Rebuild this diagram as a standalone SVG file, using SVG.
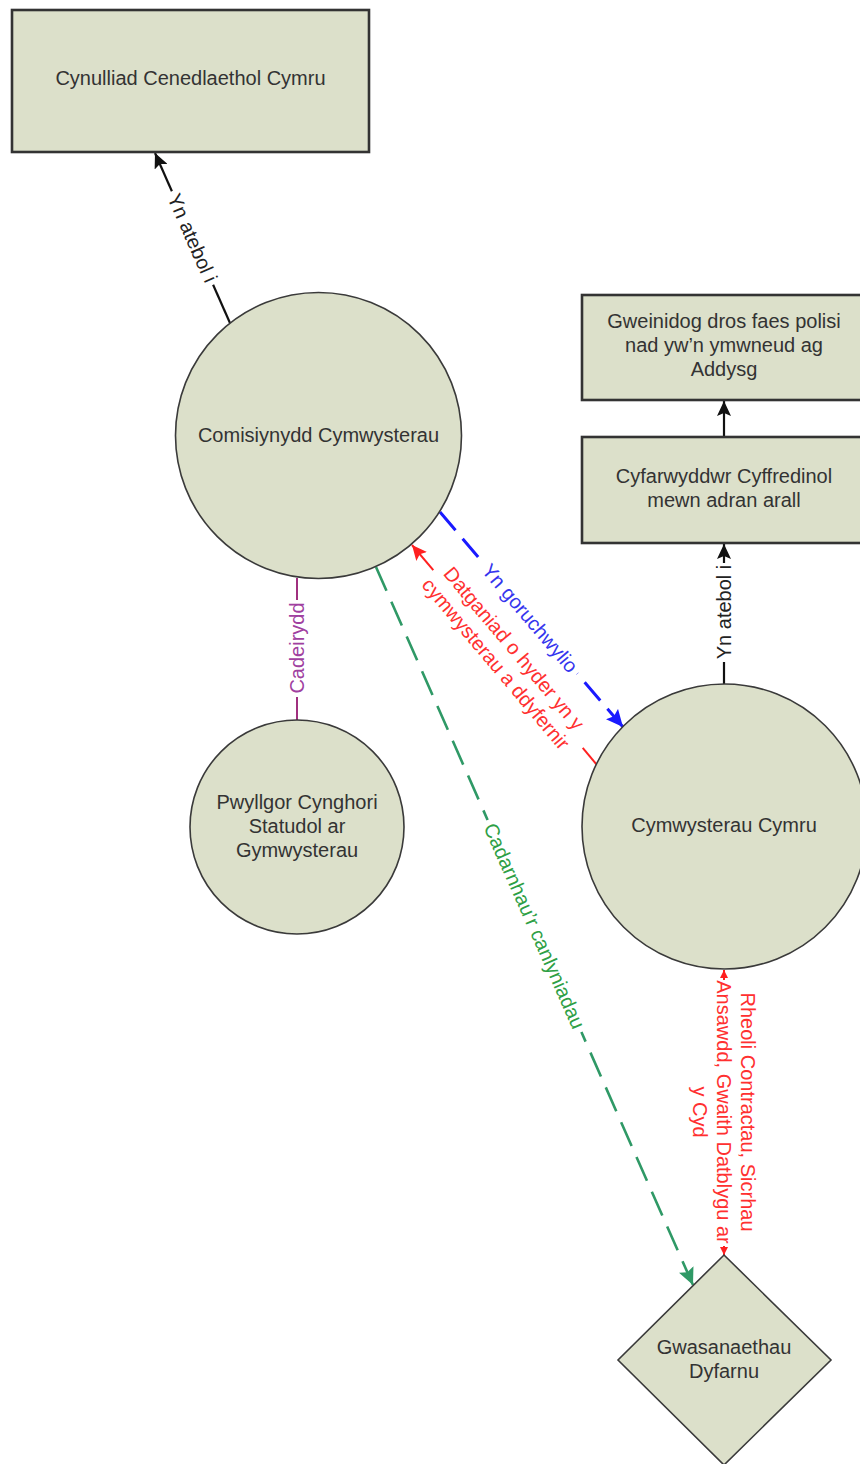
<svg xmlns="http://www.w3.org/2000/svg" width="860" height="1464" viewBox="0 0 860 1464">
<style>
  text { font-family: "Liberation Sans", Arial, sans-serif; font-size: 20px; }
  .node { fill: #dce0ca; stroke: #3a3a3a; stroke-width: 1.6; }
  .box { fill: #dce0ca; stroke: #333333; stroke-width: 2.6; }
  .lbl { fill: #333333; text-anchor: middle; }
  .k { stroke: #111111; stroke-width: 2.2; fill: none; }
  .blue { stroke: #1a1aff; stroke-width: 3; fill: none; stroke-dasharray: 24 11; }
  .green { stroke: #2f9966; stroke-width: 2.6; fill: none; stroke-dasharray: 26 12; }
  .red { stroke: #ff2020; stroke-width: 2; fill: none; }
  .purple { stroke: #a0307f; stroke-width: 2; fill: none; }
  .tk { fill: #222222; text-anchor: middle; }
  .tb { fill: #3535ee; text-anchor: middle; }
  .tr { fill: #ff3030; text-anchor: middle; }
  .tg { fill: #2e9f45; text-anchor: middle; }
  .tp { fill: #a040a0; text-anchor: middle; }
</style>
<defs>
  <marker id="ak" markerUnits="userSpaceOnUse" markerWidth="16" markerHeight="14" refX="15" refY="7" orient="auto">
    <path d="M0,0 L15,7 L0,14 L3,7 Z" fill="#111111"/>
  </marker>
  <marker id="ab" markerUnits="userSpaceOnUse" markerWidth="18" markerHeight="16" refX="17" refY="8" orient="auto-start-reverse">
    <path d="M0,0 L17,8 L0,16 L3,8 Z" fill="#1a1aff"/>
  </marker>
  <marker id="ag" markerUnits="userSpaceOnUse" markerWidth="18" markerHeight="16" refX="17" refY="8" orient="auto-start-reverse">
    <path d="M0,0 L17,8 L0,16 L3,8 Z" fill="#2f9966"/>
  </marker>
  <marker id="ar" markerUnits="userSpaceOnUse" markerWidth="16" markerHeight="14" refX="15" refY="7" orient="auto">
    <path d="M0,0 L15,7 L0,14 L3,7 Z" fill="#ff2020"/>
  </marker>
  <marker id="ars" markerUnits="userSpaceOnUse" markerWidth="9" markerHeight="9" refX="8" refY="4" orient="auto">
    <path d="M0,0 L8,4 L0,8 Z" fill="#ff2020"/>
  </marker>
</defs>

<g id="connectors">
  <!-- Comisiynydd -> Cynulliad -->
  <path class="k" d="M230,323 L213.1,284.7"/>
  <path class="k" d="M171.9,191.3 L155,153" marker-end="url(#ak)"/>
  <text class="tk" x="192.5" y="238" dy="0.35em" transform="rotate(66.19 192.5 238)">Yn atebol i</text>

  <!-- Cymwysterau Cymru -> Cyfarwyddwr -->
  <path class="k" d="M724,684 L724,662"/>
  <path class="k" d="M724,563 L724,544" marker-end="url(#ak)"/>
  <text class="tk" x="724" y="612" dy="0.35em" transform="rotate(-90 724 612)">Yn atebol i</text>

  <!-- Cyfarwyddwr -> Gweinidog -->
  <path class="k" d="M724,437 L724,401" marker-end="url(#ak)"/>

  <!-- Cadeirydd -->
  <path class="purple" d="M297,578 L297,600"/>
  <path class="purple" d="M297,697 L297,720"/>
  <text class="tp" x="297" y="648" dy="0.35em" transform="rotate(-90 297 648)">Cadeirydd</text>

  <!-- Yn goruchwylio -->
  <path class="blue" d="M440,512 L482.7,562.4"/>
  <path class="blue" d="M623,727 L577.3,673.6" marker-start="url(#ab)"/>
  <text class="tb" x="530" y="618" dy="0.35em" transform="rotate(49.6 530 618)">Yn goruchwylio</text>

  <!-- Datganiad -->
  <path class="red" d="M433.3,570.2 L412,545" marker-end="url(#ar)"/>
  <path class="red" d="M582.7,747.8 L597,765"/>
  <text class="tr" transform="rotate(49.93 505 656)"><tspan x="505" y="651">Datganiad o hyder yn y</tspan><tspan x="505" y="675">cymwysterau a ddyfernir</tspan></text>

  <!-- Cadarnhau'r canlyniadau -->
  <path class="green" d="M376,567 L487.6,819.9"/>
  <path class="green" d="M693,1285 L581.4,1032.1" marker-start="url(#ag)"/>
  <text class="tg" x="534.5" y="926" dy="0.35em" transform="rotate(66.18 534.5 926)">Cadarnhau’r canlyniadau</text>

  <!-- Rheoli Contractau -->
  <path class="red" d="M724,980 L724,970" marker-end="url(#ars)"/>
  <path class="red" d="M724,1246 L724,1255" marker-end="url(#ars)"/>
  <text class="tr" transform="rotate(90 723.5 1112)"><tspan x="723.5" y="1095">Rheoli Contractau, Sicrhau</tspan><tspan x="723.5" y="1119">Ansawdd, Gwaith Datblygu ar</tspan><tspan x="723.5" y="1143">y Cyd</tspan></text>
</g>

<g id="cynulliad">
  <rect class="box" x="12" y="10" width="357" height="142" stroke-width="3"/>
  <text class="lbl" x="190.5" y="85">Cynulliad Cenedlaethol Cymru</text>
</g>

<g id="gweinidog">
  <rect class="box" x="582" y="295" width="292" height="105"/>
  <text class="lbl"><tspan x="724" y="328">Gweinidog dros faes polisi</tspan><tspan x="724" y="352">nad yw’n ymwneud ag</tspan><tspan x="724" y="376">Addysg</tspan></text>
</g>

<g id="cyfarwyddwr">
  <rect class="box" x="582" y="437" width="292" height="106"/>
  <text class="lbl"><tspan x="724" y="483">Cyfarwyddwr Cyffredinol</tspan><tspan x="724" y="507">mewn adran arall</tspan></text>
</g>

<g id="comisiynydd">
  <circle class="node" cx="318.5" cy="435.5" r="143"/>
  <text class="lbl" x="318.5" y="442">Comisiynydd Cymwysterau</text>
</g>

<g id="pwyllgor">
  <circle class="node" cx="297" cy="827" r="107"/>
  <text class="lbl"><tspan x="297" y="809">Pwyllgor Cynghori</tspan><tspan x="297" y="833">Statudol ar</tspan><tspan x="297" y="857">Gymwysterau</tspan></text>
</g>

<g id="cymwysterau-cymru">
  <circle class="node" cx="724.5" cy="826.5" r="142.5"/>
  <text class="lbl" x="724" y="832">Cymwysterau Cymru</text>
</g>

<g id="gwasanaethau">
  <polygon class="node" points="724,1255 831,1360 724,1465 618,1360" stroke="#505050"/>
  <text class="lbl"><tspan x="724" y="1354">Gwasanaethau</tspan><tspan x="724" y="1378">Dyfarnu</tspan></text>
</g>
</svg>
